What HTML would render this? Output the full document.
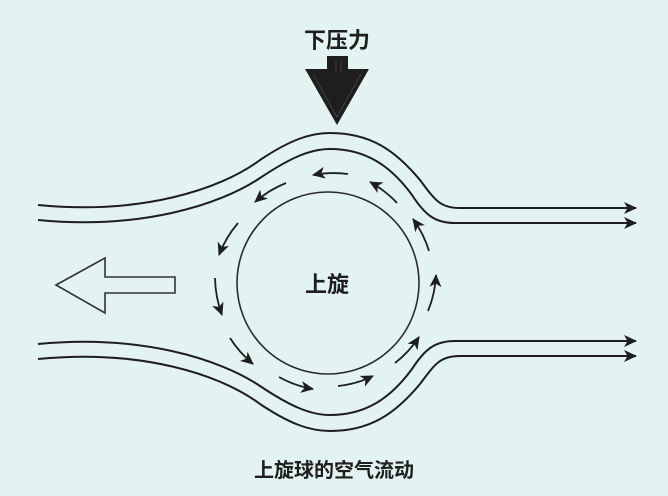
<!DOCTYPE html>
<html><head><meta charset="utf-8"><style>
html,body{margin:0;padding:0;background:#e3f3f1;}
svg{display:block}
text{font-family:"Liberation Sans","Noto Sans CJK SC",sans-serif;fill:#1e1e1e;font-weight:bold}
</style></head><body>
<svg width="668" height="496" viewBox="0 0 668 496" xmlns="http://www.w3.org/2000/svg">
<defs>
<marker id="a" markerUnits="userSpaceOnUse" markerWidth="16" markerHeight="14" refX="12" refY="6" orient="auto">
<path d="M0,0 L13,6 L0,12 L3.5,6 Z" fill="#1e1e1e"/>
</marker>
</defs>
<rect width="668" height="496" fill="#e3f3f1"/>
<text x="337" y="48" font-size="22" text-anchor="middle">下压力</text>
<polygon points="327,56 348,56 348,69 369,69 337,125 305,69 327,69" fill="#1e1e1e"/>
<path d="M336,60 V72 M341,60 V72 M313,74 L337,117 L361,74" stroke="#555" stroke-width="0.6" fill="none"/>
<g fill="none" stroke="#1e1e1e" stroke-width="2">
<g id="top">
<path d="M38,205 C140,215 220,190 260,160 C290,140 310,133 330,133 C370,133 395,150 420,180 C435,200 440,208 460,208 L636,208" marker-end="url(#a)"/>
<path d="M38,220 C140,230 220,205 260,178 C290,158 310,149 330,149 C365,149 390,165 412,195 C425,215 435,223 455,223 L636,223" marker-end="url(#a)"/>
</g>
<use href="#top" transform="translate(0,564) scale(1,-1)"/>
</g>
<circle cx="328" cy="283" r="91" fill="none" stroke="#2a2a2a" stroke-width="1.6"/>
<text x="327" y="292" font-size="22" text-anchor="middle">上旋</text>
<g fill="none" stroke="#1e1e1e" stroke-width="1.8" marker-end="url(#a)">
<path d="M348,174 A110 110 0 0 0 313,175"/>
<path d="M286,183 A109 109 0 0 0 255,202"/>
<path d="M238,223 A110 110 0 0 0 219,255"/>
<path d="M215,278 A112 112 0 0 0 222,315"/>
<path d="M230,338 A111 111 0 0 0 253,364"/>
<path d="M279,377 A106 106 0 0 0 313,389"/>
<path d="M338,386 A103 103 0 0 0 373,376"/>
<path d="M395,363 A105 105 0 0 0 419,337"/>
<path d="M428,311 A106 106 0 0 0 436,275"/>
<path d="M429,251 A106 106 0 0 0 413,219"/>
<path d="M397,203 A108 108 0 0 0 370,182"/>
</g>
<polygon points="56,285 105,258 105,277 175,277 175,293 105,293 105,313" fill="none" stroke="#333" stroke-width="1.6"/>
<text x="334" y="477" font-size="20" text-anchor="middle">上旋球的空气流动</text>
</svg>
</body></html>
